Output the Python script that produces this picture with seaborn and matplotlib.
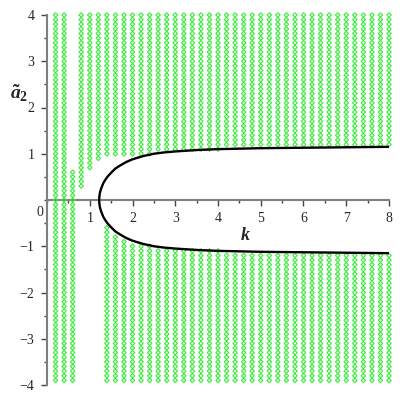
import numpy as np
import pandas as pd
import matplotlib
matplotlib.use("Agg")
import matplotlib.pyplot as plt
from matplotlib.ticker import MultipleLocator, FixedLocator
import seaborn as sns

# ---- data ----
k_cols = [0.2, 0.4, 0.6, 0.8, 1.0, 1.2, 1.4, 1.6, 1.8, 2.0,
          2.2, 2.4, 2.6, 2.8, 3.0, 3.2, 3.4, 3.6, 3.8, 4.0,
          4.2, 4.4, 4.6, 4.8, 5.0, 5.2, 5.4, 5.6, 5.8, 6.0,
          6.2, 6.4, 6.6, 6.8, 7.0, 7.2, 7.4, 7.6, 7.8, 8.0]
upper_lo = [0.0, 0.0, 0.0, 0.3, 0.7, 0.9, 1.0, 1.0, 1.0, 1.0,
            1.0, 1.0, 1.1, 1.1, 1.1, 1.1, 1.1, 1.1, 1.1, 1.1,
            1.2, 1.2, 1.2, 1.2, 1.2, 1.2, 1.2, 1.2, 1.2, 1.2,
            1.2, 1.2, 1.2, 1.2, 1.2, 1.2, 1.2, 1.2, 1.2, 1.2]
upper_hi = [4.0, 4.0, 0.6] + [4.0] * 37
lower_hi = [-0.1, -0.1, -0.1, np.nan, np.nan, np.nan, -0.6, -0.8, -0.9, -1.0,
            -1.0, -1.0, -1.1, -1.1, -1.1, -1.1, -1.1, -1.1, -1.1, -1.1,
            -1.2, -1.2, -1.2, -1.2, -1.2, -1.2, -1.2, -1.2, -1.2, -1.2,
            -1.2, -1.2, -1.2, -1.2, -1.2, -1.2, -1.2, -1.2, -1.2, -1.2]
lower_lo = [-3.9] * 40
row_step = 0.1

# boundary curve (upper branch; lower branch is its mirror)
curve_k = [1.22, 1.225, 1.235, 1.25, 1.28, 1.32, 1.36, 1.42, 1.5, 1.6, 1.7,
           1.85, 2.0, 2.25, 2.5, 2.75, 3.0, 3.5, 4.0, 4.5, 5.0, 5.5, 6.0,
           6.5, 7.0, 7.5, 8.0]
curve_a = [0.0, 0.08, 0.14, 0.2, 0.28, 0.37, 0.43, 0.51, 0.59, 0.68, 0.74,
           0.82, 0.88, 0.95, 1.0, 1.03, 1.05, 1.08, 1.1, 1.11, 1.12, 1.125,
           1.13, 1.135, 1.14, 1.145, 1.15]

# ---- build point table ----
pts_k, pts_a = [], []
for k, ulo, uhi, llo, lhi in zip(k_cols, upper_lo, upper_hi, lower_lo, lower_hi):
    for lo, hi in ((ulo, uhi), (llo, lhi)):
        if np.isnan(lo) or np.isnan(hi):
            continue
        n = int(round((hi - lo) / row_step)) + 1
        for i in range(n):
            pts_k.append(k)
            pts_a.append(round(lo + i * row_step, 2))
pts = pd.DataFrame({"k": pts_k, "a": pts_a})

ck = curve_k[::-1] + curve_k
ca = [-v for v in curve_a[::-1]] + curve_a
curve = pd.DataFrame({"k": ck, "a": ca, "order": range(len(ck))})

# ---- figure ----
sns.set_style("white")
plt.rcParams["font.family"] = ["Liberation Serif", "DejaVu Serif"]
plt.rcParams["mathtext.fontset"] = "custom"
plt.rcParams["mathtext.it"] = "Liberation Serif:italic:bold"
plt.rcParams["mathtext.rm"] = "Liberation Serif:bold"
plt.rcParams["mathtext.bf"] = "Liberation Serif:bold"

fig = plt.figure(figsize=(4, 4), dpi=100)
ax = fig.add_axes([47 / 400, 15 / 400, 342 / 400, 370 / 400])

sns.scatterplot(data=pts, x="k", y="a", ax=ax, marker="D", s=5,
                facecolors="none", edgecolor="#33ee33", linewidth=0.8,
                clip_on=False, zorder=2, legend=False)
sns.lineplot(data=curve, x="k", y="a", ax=ax, sort=False, estimator=None,
             color="black", linewidth=1.7, zorder=3)

ax.set_xlim(0, 8)
ax.set_ylim(-4, 4)

for s in ("top", "right"):
    ax.spines[s].set_visible(False)
ax.spines["left"].set_position(("data", 0))
ax.spines["bottom"].set_position(("data", 0))
for s in ("left", "bottom"):
    ax.spines[s].set_color("#7f7f7f")
    ax.spines[s].set_linewidth(1.5)
    ax.spines[s].set_zorder(1)

ax.xaxis.set_major_locator(FixedLocator([1, 2, 3, 4, 5, 6, 7, 8]))
ax.xaxis.set_minor_locator(MultipleLocator(0.5))
ax.yaxis.set_major_locator(FixedLocator([-4, -3, -2, -1, 1, 2, 3, 4]))
ax.yaxis.set_minor_locator(MultipleLocator(0.5))
ax.set_yticklabels(["\u22124", "\u22123", "\u22122", "\u22121", "1", "2", "3", "4"])
ax.tick_params(axis="both", which="major", direction="out", length=4,
               width=1, color="#444444", labelsize=10, pad=5)
ax.tick_params(axis="both", which="minor", direction="out", length=2.5,
               width=1, color="#444444")
ax.xaxis.set_ticks_position("bottom")
ax.yaxis.set_ticks_position("left")
ax.set_xlabel("")
ax.set_ylabel("")

ax.text(-0.17, -0.27, "0", ha="center", va="center", fontsize=10)
ax.text(4.63, -0.76, "k", ha="center", va="center", fontsize=13,
        fontweight="bold", fontstyle="italic")
ax.text(-0.66, 2.3, r"$\tilde{a}_2$", ha="center", va="center", fontsize=14)

fig.savefig("out.png", dpi=100)
